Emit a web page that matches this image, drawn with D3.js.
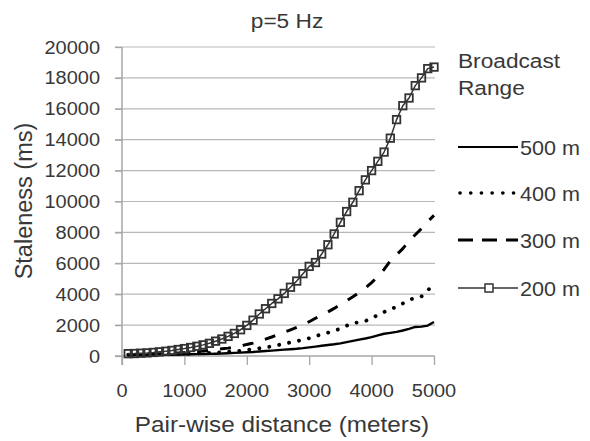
<!DOCTYPE html>
<html><head><meta charset="utf-8">
<script src="https://cdn.jsdelivr.net/npm/d3@7"></script>
<style>html,body{margin:0;padding:0;background:#fff}svg{display:block}</style>
</head><body>
<script>
const distances = [100,200,300,400,500,600,700,800,900,1000,1100,1200,1300,1400,1500,1600,1700,1800,1900,2000,2100,2200,2300,2400,2500,2600,2700,2800,2900,3000,3100,3200,3300,3400,3500,3600,3700,3800,3900,4000,4100,4200,4300,4400,4500,4600,4700,4800,4900,5000];
const range500 = [50,50,55,60,60,65,70,80,90,100,110,120,130,140,150,160,180,200,220,240,260,290,320,350,380,410,440,470,510,560,610,660,710,760,820,900,980,1060,1130,1220,1330,1440,1500,1560,1650,1760,1880,1900,1970,2200];
const range400 = [80,80,90,90,100,100,110,120,130,140,150,170,180,200,220,240,270,300,340,390,450,500,550,630,710,790,880,960,1040,1150,1280,1400,1510,1640,1760,1960,2140,2180,2260,2450,2650,2850,3030,3180,3400,3640,3750,3860,4250,4650];
const range300 = [100,100,110,120,130,140,160,180,200,230,260,290,330,370,420,470,510,570,650,750,840,960,1090,1230,1390,1540,1690,1850,2020,2220,2440,2650,2850,3080,3330,3570,3830,4110,4400,4750,5150,5600,6150,6550,6950,7450,7850,8250,8700,9100];
const range200 = [150,160,180,200,230,270,310,360,420,480,550,630,720,820,960,1100,1270,1460,1700,1980,2320,2720,3060,3400,3700,4050,4450,4850,5330,5800,6050,6600,7200,7900,8650,9350,9950,10700,11400,12000,12600,13200,14100,15300,16200,16700,17500,18000,18600,18700];
const seriesNames = ["500 m","400 m","300 m","200 m"];
const xTicks = [0,1000,2000,3000,4000,5000];
const yTicks = [0,2000,4000,6000,8000,10000,12000,14000,16000,18000,20000];
const titleText = "p=5 Hz";
const xLabel = "Pair-wise distance (meters)";
const yLabel = "Staleness (ms)";
const legendTitle = ["Broadcast","Range"];

const W=590,H=441;
const svg=d3.select("body").append("svg").attr("width",W).attr("height",H);
const x=d3.scaleLinear().domain([0,5000]).range([122,434]);
const y=d3.scaleLinear().domain([0,20000]).range([356,47]);
const font="'Liberation Sans', Arial, sans-serif";
const tc="#383838";
const sx=1.08;

function txt(g,t,px,py,size,anchor){
  return g.append("text").attr("transform",`translate(${px},${py}) scale(${sx},1)`)
    .attr("text-anchor",anchor||"start").attr("font-family",font).attr("font-size",size).attr("fill",tc).text(t);
}

// gridlines
const grid=svg.append("g");
yTicks.forEach(v=>{ if(v>0) grid.append("line").attr("x1",115).attr("x2",435).attr("y1",y(v)).attr("y2",y(v)).attr("stroke","#b8b8b8").attr("stroke-width",1.2);});

// axes
const yAxis=d3.axisLeft(y).tickValues(yTicks).tickSize(7).tickFormat("");
const gy=svg.append("g").attr("transform","translate(122,0)").call(yAxis);
gy.select(".domain").remove();
gy.selectAll("line").attr("stroke","#a6a6a6").attr("stroke-width",1.3);
svg.append("line").attr("x1",122).attr("x2",122).attr("y1",47).attr("y2",365).attr("stroke","#a6a6a6").attr("stroke-width",1.5);
const xAxis=d3.axisBottom(x).tickValues(xTicks).tickSize(9).tickFormat("");
const gx=svg.append("g").attr("transform","translate(0,356)").call(xAxis);
gx.select(".domain").attr("stroke","#a6a6a6").attr("stroke-width",1.5).attr("d","M115,0H434.5");
gx.selectAll("line").attr("stroke","#a6a6a6").attr("stroke-width",1.3);

yTicks.forEach(v=>txt(svg,String(v),100,y(v)+6.5,18.5,"end"));
xTicks.forEach(v=>txt(svg,String(v),x(v),397,18.5,"middle"));

txt(svg,titleText,287,28,21,"middle");
txt(svg,xLabel,282,432,22.5,"middle");
svg.append("text").attr("transform","translate(32,201) rotate(-90)").attr("text-anchor","middle")
  .attr("font-family",font).attr("font-size",23.5).attr("fill",tc).text(yLabel);

const line=d3.line().x((d,i)=>x(distances[i])).y(d=>y(d)).curve(d3.curveLinear);
const styles=[
  {data:range500,w:2.4,dash:null,cap:"butt",color:"#000"},
  {data:range400,w:3.8,dash:"0.1,10",cap:"round",color:"#000"},
  {data:range300,w:3,dash:"11,12",cap:"butt",color:"#000"},
  {data:range200,w:1.5,dash:null,cap:"butt",color:"#333"}
];
styles.forEach(s=>{
  const p=svg.append("path").datum(s.data).attr("d",line).attr("fill","none")
   .attr("stroke",s.color).attr("stroke-width",s.w).attr("stroke-linecap",s.cap).attr("stroke-linejoin","round");
  if(s.dash) p.attr("stroke-dasharray",s.dash);
});
svg.append("g").selectAll("rect").data(range200).join("rect")
  .attr("x",(d,i)=>x(distances[i])-3.75).attr("y",d=>y(d)-3.75).attr("width",7.5).attr("height",7.5)
  .attr("fill","none").attr("stroke","#333").attr("stroke-width",1.8);

// legend
txt(svg,legendTitle[0],458,68,21,"start");
txt(svg,legendTitle[1],458,95,21,"start");
const ly=[147,193,240,288];
const lstyles=[
  {w:2,dash:null,cap:"butt"},
  {w:3.6,dash:"0.1,10.6",cap:"round"},
  {w:3.2,dash:"15,9",cap:"butt"},
  {w:1.5,dash:null,cap:"butt"}
];
seriesNames.forEach((n,i)=>{
  const s=lstyles[i];
  const l=svg.append("line").attr("x1",i==1?460:458).attr("x2",518).attr("y1",ly[i]).attr("y2",ly[i])
    .attr("stroke",i==3?"#333":"#000").attr("stroke-width",s.w).attr("stroke-linecap",s.cap);
  if(s.dash) l.attr("stroke-dasharray",s.dash);
  txt(svg,n,520,ly[i]+7.5,20,"start");
});
svg.append("rect").attr("x",485).attr("y",ly[3]-4).attr("width",8).attr("height",8).attr("fill","#fff").attr("stroke","#333").attr("stroke-width",1.5);
</script>
</body></html>
